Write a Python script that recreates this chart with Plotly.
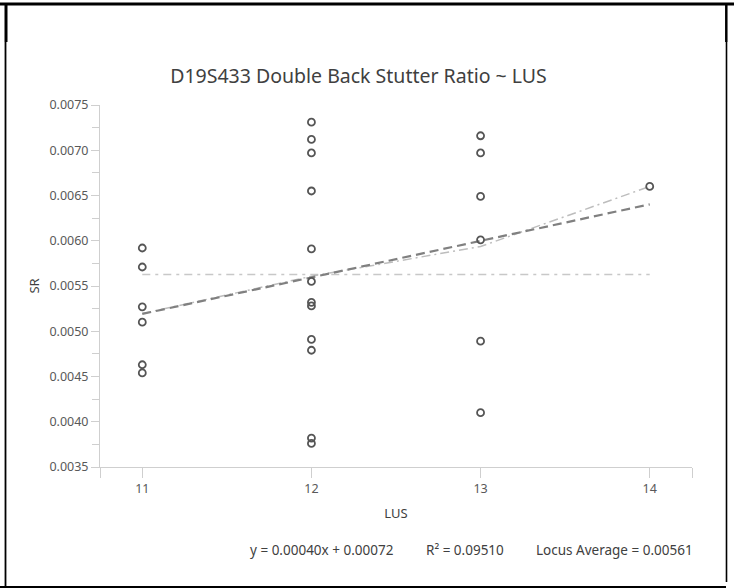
import numpy as np
import plotly.graph_objects as go

# ---- data ----
lus_levels = [11, 12, 13, 14]
sr_lus11 = [0.00592, 0.00571, 0.00527, 0.00510, 0.00463, 0.00454]
sr_lus12 = [0.00731, 0.00712, 0.00697, 0.00655, 0.00591, 0.00555,
            0.00532, 0.00528, 0.00491, 0.00479, 0.00382, 0.00376]
sr_lus13 = [0.00716, 0.00697, 0.00649, 0.00601, 0.00489, 0.00410]
sr_lus14 = [0.00660]

title_text = "D19S433 Double Back Stutter Ratio ~ LUS"
eq_text = "y = 0.00040x + 0.00072"
r2_text = "R² = 0.09510"
avg_text = "Locus Average = 0.00561"
y_ticks = [0.0035, 0.0040, 0.0045, 0.0050, 0.0055, 0.0060, 0.0065, 0.0070, 0.0075]
x_ticks = [11, 12, 13, 14]

groups = [sr_lus11, sr_lus12, sr_lus13, sr_lus14]
xs = np.concatenate([[lv] * len(g) for lv, g in zip(lus_levels, groups)]).astype(float)
ys = np.concatenate(groups)

slope, intercept = np.polyfit(xs, ys, 1)
locus_avg = ys.mean()
group_means = [np.mean(g) for g in groups]

# ---- layout geometry (pixels) ----
W, H = 734, 588
L, R, T, B = 100, 42, 105, 121
pw, ph = W - L - R, H - T - B

def px_x(px):
    return (px - L) / pw

def px_y(py):
    return (H - B - py) / ph

FONT = "Segoe UI, Noto Sans, Open Sans, sans-serif"
AXC = "#cfcfcf"

fig = go.Figure()

# locus average line
fig.add_trace(go.Scatter(
    x=[lus_levels[0], lus_levels[-1]], y=[locus_avg, locus_avg], mode="lines",
    line=dict(color="#c8c8c8", width=1.5, dash="8px,5px,3px,5px"),
    hoverinfo="skip", showlegend=False))

# group means line
fig.add_trace(go.Scatter(
    x=lus_levels, y=group_means, mode="lines",
    line=dict(color="#bdbdbd", width=1.5, dash="9px,4px,2px,4px"),
    hoverinfo="skip", showlegend=False))

# regression line
fx = np.array([lus_levels[0], lus_levels[-1]], dtype=float)
fig.add_trace(go.Scatter(
    x=fx, y=slope * fx + intercept, mode="lines",
    line=dict(color="#808080", width=2.2, dash="9px,5px"),
    hoverinfo="skip", showlegend=False))

# points
fig.add_trace(go.Scatter(
    x=xs, y=ys, mode="markers",
    marker=dict(symbol="circle-open", size=7, color="#555555", line=dict(width=1.8, color="#555555")),
    showlegend=False))

# frame shapes
frame = []
def seg(x0, y0, x1, y1, w):
    frame.append(dict(type="line", xref="paper", yref="paper",
                      x0=px_x(x0), y0=px_y(y0), x1=px_x(x1), y1=px_y(y1),
                      line=dict(color="black", width=w), layer="above"))
seg(0, 4, 734, 4, 3)
seg(6, 4, 6, 42, 3)
seg(5.5, 42, 5.5, 587, 1.8)
seg(0, 587, 726, 587, 2)
seg(726.3, 4, 726.3, 42, 2.5)
seg(726.5, 42, 726.5, 582, 1.6)

ann_font = dict(family=FONT, size=13.5, color="#404040")
annotations = [
    dict(text=eq_text, x=px_x(322), y=px_y(550), xref="paper", yref="paper",
         showarrow=False, xanchor="center", yanchor="middle", font=ann_font),
    dict(text=r2_text, x=px_x(465), y=px_y(550), xref="paper", yref="paper",
         showarrow=False, xanchor="center", yanchor="middle", font=ann_font),
    dict(text=avg_text, x=px_x(614), y=px_y(550), xref="paper", yref="paper",
         showarrow=False, xanchor="center", yanchor="middle", font=ann_font),
]

fig.update_layout(
    width=W, height=H,
    margin=dict(l=L, r=R, t=T, b=B),
    paper_bgcolor="white", plot_bgcolor="white",
    title=dict(text=title_text, x=358.5 / W, xanchor="center", xref="container",
               y=1 - 76 / H, yanchor="middle", yref="container",
               font=dict(family=FONT, size=19.5, color="#404040")),
    shapes=frame,
    annotations=annotations,
    xaxis=dict(
        range=[10.75, 14.25],
        tickmode="array",
        tickvals=[10.75] + x_ticks + [14.25],
        ticktext=[""] + [str(v) for v in x_ticks] + [""],
        ticks="outside", ticklen=10, tickcolor=AXC, tickwidth=1,
        showline=True, linecolor=AXC, linewidth=1,
        showgrid=False, zeroline=False,
        tickfont=dict(family=FONT, size=12.5, color="#595959"),
        title=dict(text="LUS", standoff=12, font=dict(family=FONT, size=13, color="#404040")),
    ),
    yaxis=dict(
        range=[0.0035, 0.0075],
        tickmode="array", tickvals=y_ticks, tickformat=".4f",
        ticks="outside", ticklen=8, tickcolor=AXC, tickwidth=1,
        minor=dict(tickmode="linear", tick0=0.0035, dtick=0.00025, ticks="outside",
                   ticklen=7, tickcolor=AXC, tickwidth=1),
        showline=True, linecolor=AXC, linewidth=1,
        showgrid=False, zeroline=False,
        tickfont=dict(family=FONT, size=12.5, color="#595959"),
        title=dict(text="SR", standoff=6, font=dict(family=FONT, size=13, color="#404040")),
    ),
)

fig.write_html("out.html",
               config={"displayModeBar": False},
               post_script="document.body.style.margin='0px';document.body.style.padding='0px';")
